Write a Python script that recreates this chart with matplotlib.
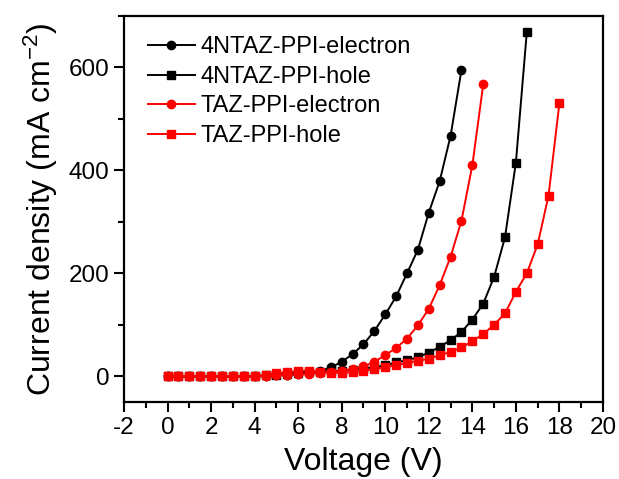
import matplotlib
matplotlib.use("Agg")
import matplotlib.pyplot as plt
from matplotlib.ticker import MultipleLocator

plt.rcParams["font.family"] = ["Liberation Sans", "DejaVu Sans"]
plt.rcParams["mathtext.default"] = "regular"
plt.rcParams["axes.unicode_minus"] = False

# voltage (V) and current density (mA cm^-2)
v_4ntaz_e = [0, 0.5, 1, 1.5, 2, 2.5, 3, 3.5, 4, 4.5, 5, 5.5, 6, 6.5, 7, 7.5, 8, 8.5,
             9, 9.5, 10, 10.5, 11, 11.5, 12, 12.5, 13, 13.5]
j_4ntaz_e = [0, 0, 0, 0, 0, 0, 0, 0, 0, 1, 2, 3, 4, 6, 10, 17, 28, 43,
             62, 88, 120, 155, 200, 246, 318, 379, 467, 595]

v_4ntaz_h = [0, 0.5, 1, 1.5, 2, 2.5, 3, 3.5, 4, 4.5, 5, 5.5, 6, 6.5, 7, 7.5, 8, 8.5,
             9, 9.5, 10, 10.5, 11, 11.5, 12, 12.5, 13, 13.5, 14, 14.5, 15, 15.5, 16, 16.5]
j_4ntaz_h = [0, 0, 0, 0, 0, 0, 0, 0, 0, 2, 3, 5, 7, 8, 9, 10, 11, 13,
             15, 18, 21, 27, 31, 37, 46, 57, 70, 86, 110, 141, 193, 270, 415, 668]

v_taz_e = [0, 0.5, 1, 1.5, 2, 2.5, 3, 3.5, 4, 4.5, 5, 5.5, 6, 6.5, 7, 7.5, 8, 8.5,
           9, 9.5, 10, 10.5, 11, 11.5, 12, 12.5, 13, 13.5, 14, 14.5]
j_taz_e = [0, 0, 0, 0, 0, 0, 0, 0, 0, 1, 2, 3, 4, 5, 6, 8, 11, 14,
           19, 28, 41, 55, 73, 99, 131, 177, 232, 302, 410, 567]

v_taz_h = [0, 0.5, 1, 1.5, 2, 2.5, 3, 3.5, 4, 4.5, 5, 5.5, 6, 6.5, 7, 7.5, 8, 8.5,
           9, 9.5, 10, 10.5, 11, 11.5, 12, 12.5, 13, 13.5, 14, 14.5, 15, 15.5, 16,
           16.5, 17, 17.5, 18]
j_taz_h = [0, 0, 0, 0, 0, 0, 0, 0, 0, 3, 6, 8, 10, 11, 9, 7, 7, 8,
           10, 14, 18, 21, 26, 30, 34, 41, 47, 56, 68, 82, 100, 122, 164,
           200, 256, 351, 531]

fig = plt.figure(figsize=(6.19, 4.79), dpi=100)
ax = fig.add_axes([0.2003, 0.1608, 0.7738, 0.8058])

ax.plot(v_4ntaz_e, j_4ntaz_e, "-o", color="black", lw=1.4, ms=6, label="4NTAZ-PPI-electron")
ax.plot(v_4ntaz_h, j_4ntaz_h, "-s", color="black", lw=1.4, ms=5.5, label="4NTAZ-PPI-hole")
ax.plot(v_taz_e, j_taz_e, "-o", color="#ff0000", lw=1.4, ms=6, label="TAZ-PPI-electron")
ax.plot(v_taz_h, j_taz_h, "-s", color="#ff0000", lw=1.4, ms=5.5, label="TAZ-PPI-hole")

ax.set_xlim(-2, 20)
ax.set_ylim(-50, 700)
ax.xaxis.set_major_locator(MultipleLocator(2))
ax.xaxis.set_minor_locator(MultipleLocator(1))
ax.yaxis.set_major_locator(MultipleLocator(200))
ax.yaxis.set_minor_locator(MultipleLocator(100))
ax.tick_params(which="both", direction="out", width=1.5, labelsize=17.5,
               top=False, right=False)
ax.tick_params(which="major", length=7)
ax.tick_params(which="minor", length=4)
for s in ax.spines.values():
    s.set_linewidth(1.6)

ax.set_xlabel("Voltage (V)", fontsize=23, labelpad=6)
ax.set_ylabel("Current density (mA cm$^{-2}$)", fontsize=23, labelpad=6)

ax.legend(loc="upper left", frameon=False, fontsize=17, handlelength=2.0,
          labelspacing=0.32, handletextpad=0.25, borderaxespad=0.3,
          bbox_to_anchor=(0.015, 0.99))

fig.savefig("out.png", dpi=100)
